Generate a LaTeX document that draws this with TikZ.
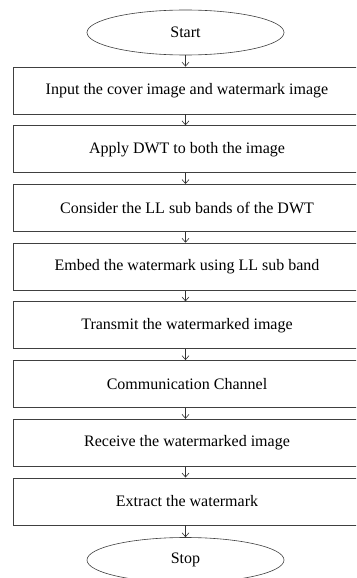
\documentclass[tikz,border=0pt]{standalone}
\usepackage{fontspec}
\setmainfont{Liberation Serif}
\usetikzlibrary{shapes.geometric,arrows.meta}
\begin{document}
\begin{tikzpicture}[x=1pt,y=-1pt,
  stepbox/.style={draw=black!75, line width=0.8pt, minimum width=348pt,
    minimum height=47pt, inner sep=0pt, font=\fontsize{16}{19}\selectfont},
  term/.style={ellipse, draw=black!75, line width=0.6pt, minimum width=197pt,
    minimum height=45pt, inner sep=0pt, font=\fontsize{16}{19}\selectfont},
  flow/.style={-{Straight Barb[length=4pt,width=7pt]}, draw=black!80, line width=0.6pt}]
\clip (0,0) rectangle (356,578);
\fill[white] (0,0) rectangle (356,578);

\node[term] (start) at (185.5,32.5) {Start};
\node[stepbox] (s1) at (187,90.5)  {Input the cover image and watermark image};
\node[stepbox] (s2) at (187,149.2) {Apply DWT to both the image};
\node[stepbox] (s3) at (187,207.9) {Consider the LL sub bands of the DWT};
\node[stepbox] (s4) at (187,266.6) {Embed the watermark using LL sub band};
\node[stepbox] (s5) at (187,325.3) {Transmit the watermarked image};
\node[stepbox] (s6) at (187,384.0) {Communication Channel};
\node[stepbox] (s7) at (187,442.7) {Receive the watermarked image};
\node[stepbox] (s8) at (187,501.4) {Extract the watermark};
\node[term] (stop) at (185.5,560) {Stop};

\foreach \a/\b in {start/s1,s1/s2,s2/s3,s3/s4,s4/s5,s5/s6,s6/s7,s7/s8,s8/stop}
  \draw[flow] (\a.south -| start.south) -- (\b.north -| start.south);
\end{tikzpicture}
\end{document}
